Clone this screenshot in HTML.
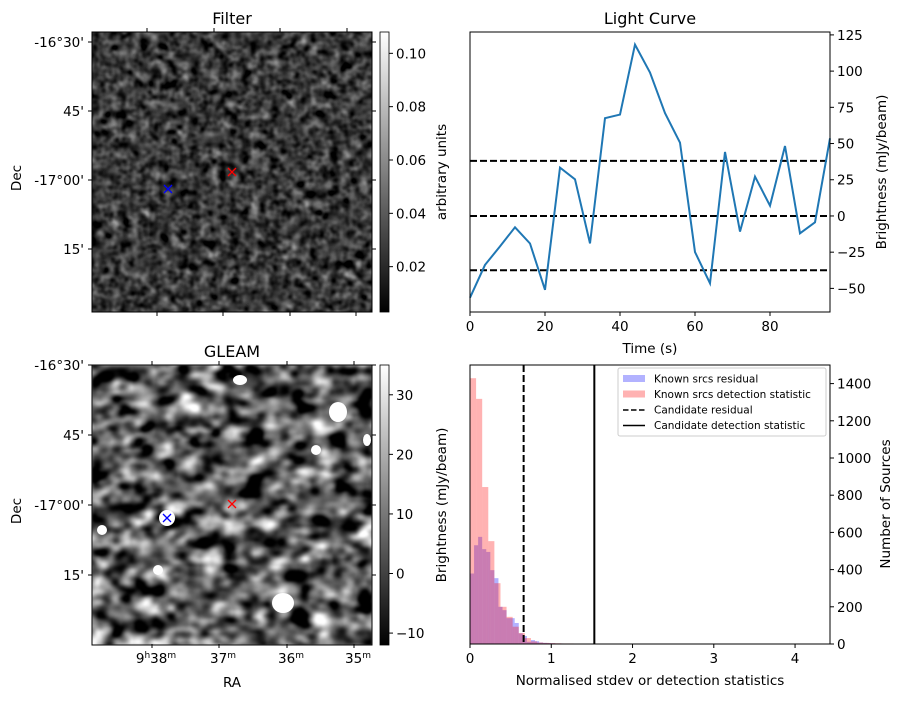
<!DOCTYPE html>
<html><head><meta charset="utf-8"><style>
body{margin:0;background:#fff;}
svg{font-family:"DejaVu Sans","Liberation Sans",sans-serif;}
</style></head><body>
<svg id="fig" width="904" height="699" viewBox="0 0 904 699" xmlns="http://www.w3.org/2000/svg">
<defs>
<filter id="noiseA" x="0" y="0" width="100%" height="100%" color-interpolation-filters="sRGB">
<feTurbulence type="fractalNoise" baseFrequency="0.1" numOctaves="2" seed="3"/>
<feColorMatrix type="matrix" values="0.33 0.33 0.33 0 0  0.33 0.33 0.33 0 0  0.33 0.33 0.33 0 0  0 0 0 0 1"/>
<feComponentTransfer><feFuncR type="linear" slope="1.5" intercept="-0.52"/><feFuncG type="linear" slope="1.5" intercept="-0.52"/><feFuncB type="linear" slope="1.5" intercept="-0.52"/></feComponentTransfer>
</filter>
<filter id="noiseB" x="0" y="0" width="100%" height="100%" color-interpolation-filters="sRGB">
<feTurbulence type="fractalNoise" baseFrequency="0.045 0.06" numOctaves="2" seed="7"/>
<feColorMatrix type="matrix" values="0.33 0.33 0.33 0 0  0.33 0.33 0.33 0 0  0.33 0.33 0.33 0 0  0 0 0 0 1"/>
<feComponentTransfer><feFuncR type="linear" slope="3.6" intercept="-1.42"/><feFuncG type="linear" slope="3.6" intercept="-1.42"/><feFuncB type="linear" slope="3.6" intercept="-1.42"/></feComponentTransfer>
<feGaussianBlur stdDeviation="0.8"/>
</filter>
<linearGradient id="cbar" x1="0" y1="1" x2="0" y2="0"><stop offset="0" stop-color="#000"/><stop offset="1" stop-color="#fff"/></linearGradient>
</defs>
<g id="root"></g>
</svg>
<script>
// Light curve data
const lcTimes = [0,4,8,12,16,20,24,28,32,36,40,44,48,52,56,60,64,68,72,76,80,84,88,92,96];
const lcValues = [-56.4,-33.8,-21,-7.8,-19,-51,33.4,25.3,-18.9,67.5,70,118.3,99,71,50.6,-24.9,-46.5,44.2,-10.8,27.2,7.1,48.3,-12,-4.4,53.6];
const lcThresholds = [38, 0, -37.5];
const lcXTicks = [0,20,40,60,80];
const lcYTicks = [-50,-25,0,25,50,75,100,125];
// Histogram data
const redBinWidth = 0.075;
const redCounts = [1429,1318,844,553,327,200,146,93,59,32,14,8,6,5,4,3,3,2,2,2,2,2,2];
const blueBinWidth = 0.05;
const blueCounts = [379,531,576,510,495,397,354,200,182,139,139,113,57,43,12,21,15,8,6,5,4,3,3,2,2,2,2,2,2,2,2,2];
const candResidual = 0.66;
const candDetection = 1.53;
const histXTicks = [0,1,2,3,4];
const histYTicks = [0,200,400,600,800,1000,1200,1400];
// colorbar ticks
const filterCbTicks = [0.02,0.04,0.06,0.08,0.10];
const gleamCbTicks = [-10,0,10,20,30];

const NS="http://www.w3.org/2000/svg";
const root=document.getElementById('root');
const FS=13.5;
function mk(tag,attrs,parent,text){const e=document.createElementNS(NS,tag);for(const k in attrs)e.setAttribute(k,attrs[k]);if(text!==undefined)e.textContent=text;(parent||root).appendChild(e);return e;}

// ---------- Image panels ----------
function imagePanel(y0,filt,title,name,cbTicks,cbMin,cbMax,cbLabel,fmt,decLabels){
  const g=mk('g',{});
  
  
  const img=mk('rect',{x:92,y:y0,width:280,height:280,fill:'#555',filter:filt},g);
  
  
  if(name==='gleam'){
    const blobs=[[338,412,9,10],[283,603,11,10],[167,518,8,8],[240,380,7,5],[316,450,5,5],[158,570,5,5],[102,530,5,5],[367,440,4,6]];
    blobs.forEach(b=>{const e=mk('ellipse',{cx:b[0],cy:b[1],rx:b[2],ry:b[3],fill:'#fff'},g);});
  }
  const fr=mk('rect',{x:92,y:y0,width:280,height:280,fill:'none',stroke:'#000','stroke-width':1},g);
  
  
  const t=mk('text',{x:232,y:y0-8,'text-anchor':'middle','font-size':16},g,title);
  
  
  decLabels.forEach(d=>{
    mk('line',{x1:92,x2:88,y1:d[1],y2:d[1],stroke:'#000'},g);
    mk('line',{x1:372,x2:376,y1:d[1],y2:d[1],stroke:'#000'},g);
    const l=mk('text',{x:84,y:d[1]+5,'text-anchor':'end','font-size':FS},g,d[0]);
    
    
  });
  const dl=mk('text',{x:0,y:0,'text-anchor':'middle','font-size':FS,transform:`translate(21,${y0+146}) rotate(-90)`},g,'Dec');
  
  
  const mb=name==='filter'?[168,189]:[167,518], mr=name==='filter'?[232,172]:[232,504];
  [[mb,'blue','known-source-marker'],[mr,'red','candidate-marker']].forEach(m=>{
    const p=mk('path',{d:`M${m[0][0]-4},${m[0][1]-4}L${m[0][0]+4},${m[0][1]+4}M${m[0][0]-4},${m[0][1]+4}L${m[0][0]+4},${m[0][1]-4}`,stroke:m[1],'stroke-width':1.3},g);
    
    
  });
  const cb=mk('rect',{x:380,y:y0,width:9,height:280,fill:'url(#cbar)',stroke:'#000','stroke-width':0.8},g);
  
  
  cbTicks.forEach(v=>{
    const y=y0+280-(v-cbMin)/(cbMax-cbMin)*280;
    mk('line',{x1:389,x2:393,y1:y,y2:y,stroke:'#000'},g);
    const l=mk('text',{x:396,y:y+5,'font-size':FS},g,fmt(v));
    
    
  });
  const cl=mk('text',{x:0,y:0,'text-anchor':'middle','font-size':FS,transform:`translate(446,${y0+140}) rotate(-90)`},g,cbLabel);
  
  
}
imagePanel(32,'url(#noiseA)','Filter','filter',filterCbTicks,0.003,0.108,'arbitrary units',v=>v.toFixed(2),
  [["-16°30'",42],["45'",111],["-17°00'",180],["15'",249]]);
[147,214,280,347].forEach(x=>mk('line',{x1:x,x2:x,y1:32,y2:28,stroke:'#000'}));
[157,223,290,356].forEach(x=>mk('line',{x1:x,x2:x,y1:312,y2:316,stroke:'#000'}));
imagePanel(365,'url(#noiseB)','GLEAM','gleam',gleamCbTicks,-12,35,'Brightness (mJy/beam)',v=>v<0?'\u2212'+Math.abs(v):String(v),
  [["-16°30'",365],["45'",435],["-17°00'",505],["15'",575]]);
const raTicks=[["9","38",152],["","37",219],["","36",287],["","35",354]];
raTicks.forEach(r=>{
  mk('line',{x1:r[2],x2:r[2],y1:644,y2:648,stroke:'#000'});
  mk('line',{x1:r[2],x2:r[2],y1:365,y2:361,stroke:'#000'});
  const t=mk('text',{x:r[2]+4,y:663,'text-anchor':'middle','font-size':FS});
  
  
  if(r[0]){mk('tspan',{},t,'9');mk('tspan',{'font-size':9,dy:-5},t,'h');mk('tspan',{'font-size':FS,dy:5},t,'38');}
  else mk('tspan',{},t,r[1]);
  mk('tspan',{'font-size':9,dy:-5},t,'m');
});
const ral=mk('text',{x:232,y:687,'text-anchor':'middle','font-size':FS},root,'RA');



// ---------- Light curve ----------
const LC={x0:470,x1:830,y0:32,y1:312,tmin:0,tmax:96,vmin:-66.3,vmax:127};
const lx=t=>LC.x0+(t-LC.tmin)/(LC.tmax-LC.tmin)*(LC.x1-LC.x0);
const ly=v=>LC.y1-(v-LC.vmin)/(LC.vmax-LC.vmin)*(LC.y1-LC.y0);
const lcg=mk('g',{});


lcThresholds.forEach(v=>{const l=mk('line',{x1:LC.x0,x2:LC.x1,y1:ly(v),y2:ly(v),stroke:'#000','stroke-width':2,'stroke-dasharray':'7,3'},lcg);});
const lp=mk('polyline',{points:lcTimes.map((t,i)=>lx(t)+','+ly(lcValues[i])).join(' '),fill:'none',stroke:'#1f77b4','stroke-width':2},lcg);


mk('rect',{x:LC.x0,y:LC.y0,width:LC.x1-LC.x0,height:LC.y1-LC.y0,fill:'none',stroke:'#000'},lcg);
lcXTicks.forEach(t=>{mk('line',{x1:lx(t),x2:lx(t),y1:LC.y1,y2:LC.y1+4,stroke:'#000'},lcg);const l=mk('text',{x:lx(t),y:LC.y1+19,'text-anchor':'middle','font-size':FS},lcg,String(t));});
lcYTicks.forEach(v=>{mk('line',{x1:LC.x1,x2:LC.x1+4,y1:ly(v),y2:ly(v),stroke:'#000'},lcg);const l=mk('text',{x:LC.x1+7,y:ly(v)+5,'font-size':FS},lcg,v<0?'\u2212'+Math.abs(v):String(v));});
let e=mk('text',{x:650,y:24,'text-anchor':'middle','font-size':16},lcg,'Light Curve');
e=mk('text',{x:650,y:353,'text-anchor':'middle','font-size':FS},lcg,'Time (s)');
e=mk('text',{x:0,y:0,'text-anchor':'middle','font-size':FS,transform:'translate(886,172) rotate(-90)'},lcg,'Brightness (mJy/beam)');

// ---------- Histogram ----------
const H={x0:470,x1:830,y0:365,y1:644,smin:0,smax:4.43,cmax:1500};
const hx=s=>H.x0+(s-H.smin)/(H.smax-H.smin)*(H.x1-H.x0);
const hy=c=>H.y1-c/H.cmax*(H.y1-H.y0);
const hg=mk('g',{});


blueCounts.forEach((c,i)=>{const r=mk('rect',{x:hx(i*blueBinWidth),y:hy(c),width:hx((i+1)*blueBinWidth)-hx(i*blueBinWidth),height:H.y1-hy(c),fill:'rgba(0,0,255,0.3)'},hg);});
redCounts.forEach((c,i)=>{const r=mk('rect',{x:hx(i*redBinWidth),y:hy(c),width:hx((i+1)*redBinWidth)-hx(i*redBinWidth),height:H.y1-hy(c),fill:'rgba(255,0,0,0.3)'},hg);});
e=mk('line',{x1:hx(candResidual),x2:hx(candResidual),y1:H.y0,y2:H.y1,stroke:'#000','stroke-width':2,'stroke-dasharray':'7,3'},hg);
e=mk('line',{x1:hx(candDetection),x2:hx(candDetection),y1:H.y0,y2:H.y1,stroke:'#000','stroke-width':2},hg);
mk('rect',{x:H.x0,y:H.y0,width:H.x1-H.x0,height:H.y1-H.y0,fill:'none',stroke:'#000'},hg);
histXTicks.forEach(s=>{mk('line',{x1:hx(s),x2:hx(s),y1:H.y1,y2:H.y1+4,stroke:'#000'},hg);const l=mk('text',{x:hx(s),y:H.y1+19,'text-anchor':'middle','font-size':FS},hg,String(s));});
histYTicks.forEach(c=>{mk('line',{x1:H.x1,x2:H.x1+4,y1:hy(c),y2:hy(c),stroke:'#000'},hg);const l=mk('text',{x:H.x1+7,y:hy(c)+5,'font-size':FS},hg,String(c));});
e=mk('text',{x:650,y:685,'text-anchor':'middle','font-size':FS},hg,'Normalised stdev or detection statistics');
e=mk('text',{x:0,y:0,'text-anchor':'middle','font-size':FS,transform:'translate(890,504) rotate(-90)'},hg,'Number of Sources');
// legend
const lg=mk('g',{},hg);


mk('rect',{x:618,y:368,width:208,height:68,rx:2,fill:'rgba(255,255,255,0.85)',stroke:'#ccc'},lg);
const items=[['rect','rgba(0,0,255,0.3)','Known srcs residual'],['rect','rgba(255,0,0,0.3)','Known srcs detection statistic'],['dash','#000','Candidate residual'],['line','#000','Candidate detection statistic']];
items.forEach((it,i)=>{
  const y=379+i*15.5;
  const en=mk('g',{},lg);
  
  
  if(it[0]==='rect') mk('rect',{x:623,y:y-4,width:22,height:7,fill:it[1]},en);
  else mk('line',{x1:623,x2:645,y1:y,y2:y,stroke:'#000','stroke-width':1.5,'stroke-dasharray':it[0]==='dash'?'5.5,2.5':'none'},en);
  mk('text',{x:654,y:y+3.5,'font-size':10.5},en,it[2]);
});
</script>
</body></html>
